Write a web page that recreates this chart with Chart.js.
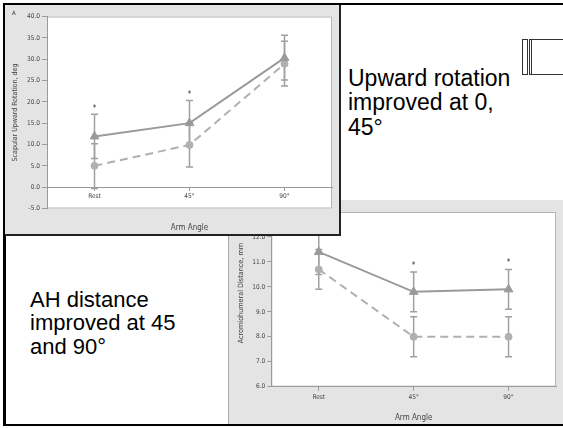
<!DOCTYPE html>
<html>
<head>
<meta charset="utf-8">
<script src="https://cdn.jsdelivr.net/npm/chart.js@4.4.1/dist/chart.umd.min.js"></script>
<style>
  html, body { margin: 0; padding: 0; background: #fff; }
  body { width: 563px; height: 428px; position: relative; overflow: hidden; font-family: 'Liberation Sans', Arial, sans-serif; }
  .frame { position: absolute; left: 3px; top: 3px; width: 620px; height: 423px; box-sizing: border-box;
           border-top: 2px solid #000; border-left: 3px solid #000; border-bottom: 2px solid #000; }
  .panel { position: absolute; background: #e4e4e4; box-sizing: border-box; }
  #panelTop { left: 5px; top: 5px; width: 336px; height: 231px; border-right: 2px solid #222; border-bottom: 2px solid #222; z-index: 3; }
  #panelBottom { left: 228px; top: 200px; width: 340px; height: 224px; border-left: 1px solid #a8a8a8; z-index: 2; }
  canvas { display: block; }
  .note { position: absolute; color: #000; white-space: nowrap; z-index: 4; }
  #noteTop { left: 348px; top: 66px; font-size: 23px; line-height: 24.3px; }
  #noteBottom { left: 30px; top: 287.6px; font-size: 22px; line-height: 23.6px; }
  #panelTag { position: absolute; left: 7px; top: 4px; font: 6px 'Liberation Sans Narrow', 'DejaVu Sans Condensed', sans-serif; color: #333; }
  .box { position: absolute; border: 1px solid #333; box-sizing: border-box; z-index: 1; }
</style>
</head>
<body>
<div class="frame"></div>

<div class="panel" id="panelTop">
  <canvas id="rotChart" width="334" height="229"></canvas>
  <div id="panelTag">A</div>
</div>
<div class="panel" id="panelBottom">
  <canvas id="ahChart" width="334" height="224"></canvas>
</div>

<div class="box" style="left:522px; top:39px; width:6px; height:36px;"></div>
<div class="box" style="left:529px; top:39px; width:60px; height:36px;"></div>
<div class="box" style="left:531px; top:39px; width:60px; height:36px; border-top:none; border-bottom:none;"></div>

<div class="note" id="noteTop">Upward rotation<br>improved at 0,<br>45°</div>
<div class="note" id="noteBottom">AH distance<br>improved at 45<br>and 90°</div>

<script>
// Shared categories
const categories = ['Rest', '45°', '90°'];

// Scapular upward rotation, deg (triangles = solid line, circles = dashed line)
const rotTriMean = [11.9, 15.0, 30.3];
const rotTriLow  = [6.7, 9.7, 25.1];
const rotTriHigh = [17.1, 20.3, 35.6];
const rotDotMean = [5.0, 9.9, 28.9];
const rotDotLow  = [-0.3, 4.7, 23.7];
const rotDotHigh = [10.2, 15.1, 34.2];
const rotStars   = [18.8, 21.9, null];
const rotTicks   = [-5, 0, 5, 10, 15, 20, 25, 30, 35, 40];

// Acromiohumeral distance, mm
const ahTriMean = [11.4, 9.8, 9.9];
const ahTriLow  = [10.5, 9.0, 9.1];
const ahTriHigh = [12.3, 10.6, 10.7];
const ahDotMean = [10.7, 8.0, 8.0];
const ahDotLow  = [9.9, 7.2, 7.2];
const ahDotHigh = [11.5, 8.8, 8.8];
const ahStars   = [null, 10.9, 11.0];
const ahTicks   = [6, 7, 8, 9, 10, 11, 12];

const FONT = "'Liberation Sans Narrow', 'DejaVu Sans Condensed', 'Liberation Sans', sans-serif";
const TXT = '#444';
const AXIS = '#9a9a9a';

// White plot panel, error bars and significance marks, all placed with the chart scales
function overlay(bars, stars, yTitle) {
  return {
    id: 'overlay',
    beforeDraw(chart) {
      const a = chart.chartArea, ctx = chart.ctx;
      ctx.save();
      ctx.fillStyle = '#fff';
      ctx.fillRect(a.left, a.top, a.right - a.left, a.bottom - a.top);
      ctx.strokeStyle = '#b4b4b4';
      ctx.lineWidth = 1;
      ctx.strokeRect(a.left + 0.5, a.top + 0.5, a.right - a.left - 1, a.bottom - a.top - 1);
      ctx.restore();
    },
    beforeDatasetsDraw(chart) {
      const ctx = chart.ctx, xs = chart.scales.x, ys = chart.scales.y;
      const cap = 3.5;
      ctx.save();
      ctx.strokeStyle = '#a0a0a0';
      ctx.lineWidth = 1.5;
      bars.forEach(([lo, hi]) => {
        lo.forEach((v, i) => {
          const px = xs.getPixelForValue(i);
          const y1 = ys.getPixelForValue(lo[i]);
          const y2 = ys.getPixelForValue(hi[i]);
          ctx.beginPath();
          ctx.moveTo(px, y1); ctx.lineTo(px, y2);
          ctx.moveTo(px - cap, y1); ctx.lineTo(px + cap, y1);
          ctx.moveTo(px - cap, y2); ctx.lineTo(px + cap, y2);
          ctx.stroke();
        });
      });
      ctx.fillStyle = '#333';
      ctx.font = '8px ' + FONT;
      ctx.textAlign = 'center';
      ctx.textBaseline = 'middle';
      stars.forEach((v, i) => {
        if (v == null) return;
        ctx.fillText('*', xs.getPixelForValue(i), ys.getPixelForValue(v) + 1.5);
      });
      ctx.restore();
    },
    afterDraw(chart) {
      if (!yTitle) return;
      const ctx = chart.ctx, ys = chart.scales.y;
      ctx.save();
      ctx.translate(ys.left + yTitle.inset, ys.getPixelForValue(yTitle.centre));
      ctx.rotate(-Math.PI / 2);
      ctx.fillStyle = TXT;
      ctx.font = yTitle.size + 'px ' + FONT;
      ctx.textAlign = 'center';
      ctx.textBaseline = 'middle';
      ctx.fillText(yTitle.text, 0, 0);
      ctx.restore();
    }
  };
}

function seriesSets(tri, dot) {
  return [
    { data: tri, borderColor: '#9a9a9a', borderWidth: 2, tension: 0,
      pointStyle: 'triangle', pointRadius: 5, pointBackgroundColor: '#9a9a9a', pointBorderColor: '#9a9a9a', pointBorderWidth: 1 },
    { data: dot, borderColor: '#b0b0b0', borderWidth: 2, borderDash: [8, 5], tension: 0,
      pointStyle: 'circle', pointRadius: 3.5, pointBackgroundColor: '#b0b0b0', pointBorderColor: '#b0b0b0', pointBorderWidth: 1 }
  ];
}

const common = {
  responsive: false,
  animation: false,
  devicePixelRatio: 1,
  events: []
};

new Chart(document.getElementById('rotChart'), {
  type: 'line',
  data: { labels: categories, datasets: seriesSets(rotTriMean, rotDotMean) },
  options: Object.assign({}, common, {
    layout: { padding: { top: 11.5, right: 7, left: 0, bottom: 0 } },
    plugins: {
      legend: { display: false },
      tooltip: { enabled: false },
      title: { display: true, text: 'Arm Angle', position: 'bottom', fullSize: false, color: TXT,
               font: { size: 8, family: FONT, weight: 'normal' }, padding: { top: 14.7, bottom: 1.2 } }
    },
    scales: {
      x: {
        offset: true,
        position: { y: 0 },
        grid: { display: true, drawOnChartArea: false, tickLength: 3, color: AXIS, offset: false },
        border: { color: AXIS, width: 1 },
        ticks: { color: TXT, font: { size: 6.5, family: FONT }, padding: 2.4, maxRotation: 0, autoSkip: false }
      },
      y: {
        min: rotTicks[0], max: rotTicks[rotTicks.length - 1],
        afterBuildTicks: s => { s.ticks = rotTicks.map(v => ({ value: v })); },
        afterFit: s => { s.width = 42; },
        grid: { drawOnChartArea: false, tickLength: 5, color: AXIS },
        border: { color: AXIS },
        ticks: { color: TXT, font: { size: 6.5, family: FONT }, padding: 2, callback: v => Number(v).toFixed(1) },
        title: { display: true, text: 'Scapular Upward Rotation, deg', color: TXT,
                 font: { size: 7, family: FONT }, padding: { top: 5.8, bottom: 0 } }
      }
    }
  }),
  plugins: [overlay([[rotTriLow, rotTriHigh], [rotDotLow, rotDotHigh]], rotStars, null)]
});

new Chart(document.getElementById('ahChart'), {
  type: 'line',
  data: { labels: categories, datasets: seriesSets(ahTriMean, ahDotMean) },
  options: Object.assign({}, common, {
    layout: { padding: { top: 12, right: 7, left: 0, bottom: 0 } },
    plugins: { legend: { display: false }, tooltip: { enabled: false } },
    scales: {
      x: {
        offset: true,
        afterFit: s => { s.height = 37.3; },
        grid: { display: true, drawOnChartArea: false, tickLength: 4, color: AXIS, offset: false },
        border: { color: AXIS },
        ticks: { color: TXT, font: { size: 6.5, family: FONT }, padding: 2.4, maxRotation: 0, autoSkip: false },
        title: { display: true, text: 'Arm Angle', color: TXT, font: { size: 8, family: FONT },
                 padding: { top: 0, bottom: 1.2 } }
      },
      y: {
        min: 6, max: 13,
        afterBuildTicks: s => { s.ticks = ahTicks.map(v => ({ value: v })); },
        afterFit: s => { s.width = 42.3; },
        grid: { drawOnChartArea: false, tickLength: 4, color: AXIS },
        border: { color: AXIS },
        ticks: { color: TXT, font: { size: 6.5, family: FONT }, padding: 2, callback: v => Number(v).toFixed(1) }
      }
    }
  }),
  plugins: [overlay([[ahTriLow, ahTriHigh], [ahDotLow, ahDotHigh]], ahStars,
                    { text: 'Acromiohumeral Distance, mm', inset: 12, centre: 9.75, size: 7.2 })]
});
</script>
</body>
</html>
